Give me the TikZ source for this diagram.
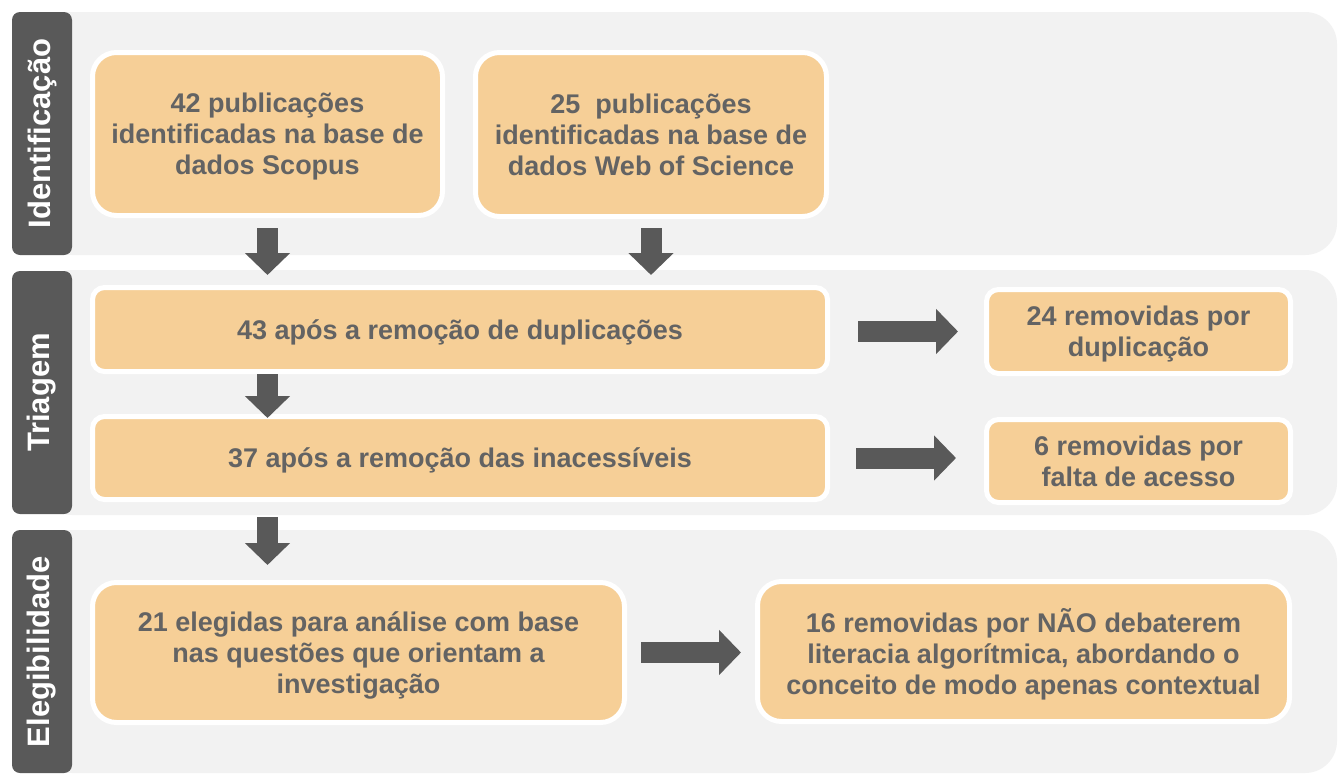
\documentclass[tikz,border=0pt]{standalone}
\usepackage{fontspec}
\setmainfont{Liberation Sans}
\usetikzlibrary{arrows.meta}
\definecolor{creme}{HTML}{F6CF97}
\definecolor{fundo}{HTML}{F2F2F2}
\definecolor{escuro}{HTML}{595959}
\definecolor{texto}{HTML}{636363}
\begin{document}
\begin{tikzpicture}[x=1pt, y=-1pt,
  painel/.style={fill=fundo, rounded corners=32},
  faixa/.style={rotate=90, fill=escuro, rounded corners=8, minimum width=243, minimum height=60,
    text=white, font=\fontsize{31}{36}\selectfont\bfseries, inner sep=0},
  caixa/.style={fill=creme, draw=white, line width=5, rounded corners=24, align=center,
    text=texto, font=\fontsize{27}{31}\selectfont\bfseries, inner sep=0, text depth=0pt},
  caixinha/.style={caixa, rounded corners=12},
  seta/.style={draw=escuro, line width=21, -{Triangle[length=22pt,width=44pt]}}]
\fill[white] (0,0) rectangle (1338,779);
\useasboundingbox (0,0) rectangle (1338,779);
\fill[painel] (40,12) rectangle (1337,255);
\fill[painel] (40,270) rectangle (1337,515);
\fill[painel] (40,530) rectangle (1337,773);
\node[faixa] (fase1) at (42,133.5) {Identificação};
\node[faixa] (fase2) at (42,392.5) {Triagem};
\node[faixa] (fase3) at (42,651.5) {Elegibilidade};
\node[caixa, minimum width=350, minimum height=163] (scopus) at (267.5,134)
  {42 publicações\\identificadas na base de\\dados Scopus};
\node[caixa, minimum width=351, minimum height=164] (wos) at (651,134.5)
  {25\ \ publicações\\identificadas na base de\\dados Web of Science};
\node[caixinha, minimum width=735, minimum height=84] (dup) at (460,329.5)
  {43 após a remoção de duplicações};
\node[caixinha, minimum width=304, minimum height=84] (remdup) at (1138.5,331.5)
  {24 removidas por\\duplicação};
\node[caixinha, minimum width=735, minimum height=83] (inac) at (460,458)
  {37 após a remoção das inacessíveis};
\node[caixinha, minimum width=304, minimum height=83] (remac) at (1138.5,461)
  {6 removidas por\\falta de acesso};
\node[caixa, minimum width=532, minimum height=140] (eleg) at (358.5,652.5)
  {21 elegidas para análise com base\\nas questões que orientam a\\investigação};
\node[caixa, minimum width=532, minimum height=140] (remdeb) at (1023.5,651.5)
  {16 removidas por NÃO debaterem\\literacia algorítmica, abordando o\\conceito de modo apenas contextual};
\draw[seta, shorten <=10pt, shorten >=10pt] (scopus.south) -- (scopus.south |- dup.north);
\draw[seta, shorten <=9pt, shorten >=10pt] (wos.south) -- (wos.south |- dup.north);
\draw[seta, shorten >=-4pt] (scopus.south |- dup.south) -- (scopus.south |- inac.north);
\draw[seta, shorten <=15pt, shorten >=15pt] (scopus.south |- inac.south) -- (scopus.south |- eleg.north);
\draw[seta, shorten <=28pt, shorten >=26pt] (dup.east |- remdup.west) -- (remdup.west);
\draw[seta, shorten <=26pt, shorten >=28pt] (inac.east) -- (inac.east -| remac.west);
\draw[seta, shorten <=14pt, shorten >=14pt] (eleg.east) -- (eleg.east -| remdeb.west);
\end{tikzpicture}
\end{document}
